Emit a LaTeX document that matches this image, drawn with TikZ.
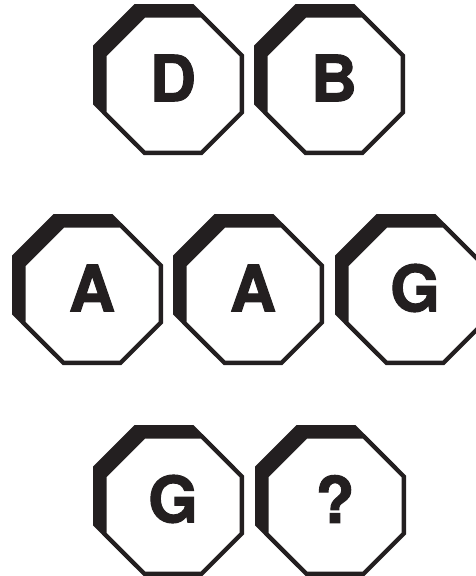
\documentclass[tikz,border=0pt]{standalone}
\usepackage{fontspec}
\setmainfont{TeX Gyre Heros}
\newfontfamily\heavyfont[FakeBold=1.6]{TeX Gyre Heros Bold}
\definecolor{ink}{HTML}{231F20}
\newcommand{\octshape}{(0.29289,0) -- (0.70711,0) -- (1,-0.29289) -- (1,-0.70711) -- (0.70711,-1) -- (0.29289,-1) -- (0,-0.70711) -- (0,-0.29289) -- cycle}
\tikzset{
  octo/.pic={
    \fill[ink, scale=142] \octshape;
    \fill[ink, shift={(9,-9)}, scale=142] \octshape;
    \fill[white, shift={(13.5,-13.5)}, scale=133] \octshape;
  },
  glyph/.style={inner sep=0pt, outer sep=0pt, text=ink, font=\heavyfont\fontsize{64}{70}\selectfont}
}
\begin{document}
\begin{tikzpicture}[x=1pt,y=1pt]
\useasboundingbox (0,0) rectangle (476,-576);
% row 1
\pic at (93,-4) {octo};
\pic at (254,-4) {octo};
\node[glyph] (d) at (173,-78) {D};
\node[glyph] (b) at (334,-78) {B};
% row 2
\pic at (12,-214) {octo};
\pic at (173,-214) {octo};
\pic at (335,-214) {octo};
\node[glyph] (a1) at (92,-288) {A};
\node[glyph] (a2) at (253,-288) {A};
\node[glyph] (g1) at (415,-288) {G};
% row 3
\pic at (93,-425) {octo};
\pic at (255,-425) {octo};
\node[glyph] (g2) at (173,-499) {G};
\node[glyph] (q) at (335,-499) {?};
\end{tikzpicture}
\end{document}
